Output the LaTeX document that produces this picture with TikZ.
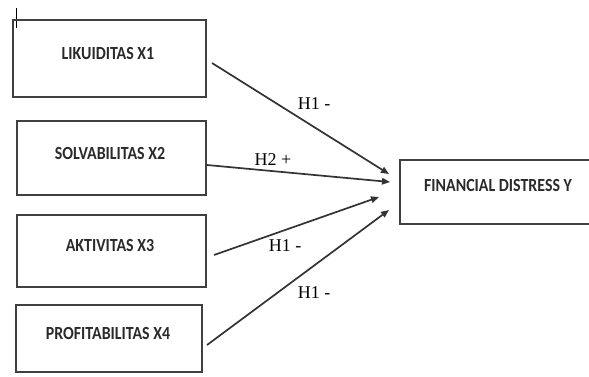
\documentclass[tikz,border=0pt]{standalone}
\usepackage{fontspec}
\setmainfont{Liberation Serif}
\newfontfamily\boxfont{Carlito}
\usetikzlibrary{arrows.meta,calc}
\definecolor{linegray}{HTML}{333333}
\definecolor{boxgray}{HTML}{404040}
\definecolor{txtgray}{HTML}{2A2A2A}
\newcommand{\bxt}[1]{\scalebox{0.86}[1]{#1}}
\tikzset{
  x=1pt, y=-1pt,
  varbox/.style={draw=boxgray, line width=1.8pt, inner sep=0pt},
  boxtext/.style={font=\boxfont\bfseries\fontsize{18.5}{20}\selectfont, text=txtgray, inner sep=0pt},
  hyp/.style={font=\fontsize{18}{20}\selectfont, text=black, inner sep=0pt},
  rel/.style={draw=linegray, line width=1.7pt, -{Triangle[length=8pt,width=6.5pt]}},
}
\begin{document}
\begin{tikzpicture}
\useasboundingbox (0,0) rectangle (589,376);
\clip (0,0) rectangle (589,376);
% cursor mark
\draw[line width=0.9pt, black] (16,8) -- (16,28);
% boxes
\node[varbox, minimum width=193pt, minimum height=77pt] (b1) at (109.5,58.5) {};
\node[varbox, minimum width=189pt, minimum height=74pt] (b2) at (111.5,158) {};
\node[varbox, minimum width=189pt, minimum height=72pt] (b3) at (111.5,251) {};
\node[varbox, minimum width=186pt, minimum height=67pt] (b4) at (109,338.5) {};
\node[varbox, minimum width=194pt, minimum height=64pt] (y) at (497,192) {};
% box texts
\node[boxtext] (t1) at (108,53) {\bxt{LIKUIDITAS X1}};
\node[boxtext] (t2) at (110,153) {\bxt{SOLVABILITAS X2}};
\node[boxtext] (t3) at (110,245) {\bxt{AKTIVITAS X3}};
\node[boxtext] (t4) at (108,333) {\bxt{PROFITABILITAS X4}};
\node[boxtext] (ty) at (498,185) {\bxt{FINANCIAL DISTRESS Y}};
% connector ends
\coordinate (s1) at (212,63);
\coordinate (e1) at (389,174);
\coordinate (s2) at (207,165);
\coordinate (e2) at (390,182);
\coordinate (s3) at (214,255);
\coordinate (e3) at (379,197);
\coordinate (s4) at (207,345);
\coordinate (e4) at (389,210);
\draw[rel] (s1) -- (e1);
\draw[rel] (s2) -- (e2);
\draw[rel] (s3) -- (e3);
\draw[rel] (s4) -- (e4);
% labels
\node[hyp] (h1) at (314,104) {H1 -};
\node[hyp] (h2) at (273,160) {H2 +};
\node[hyp] (h3) at (285,246) {H1 -};
\node[hyp] (h4) at (314,293) {H1 -};
\end{tikzpicture}
\end{document}
